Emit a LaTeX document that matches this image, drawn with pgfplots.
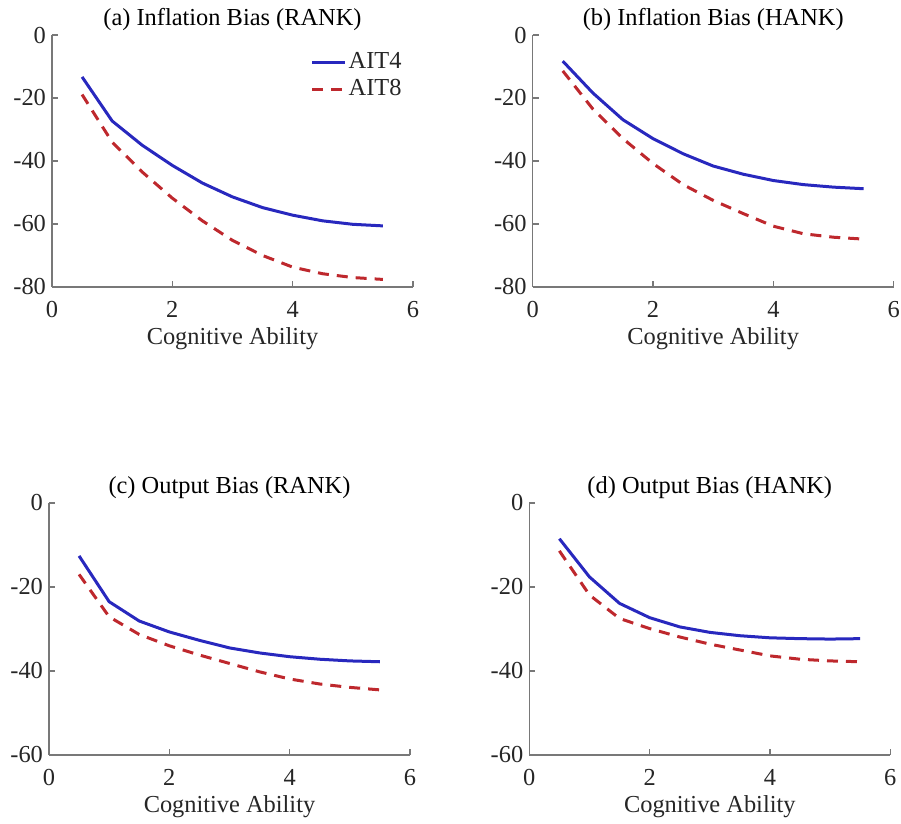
\documentclass[border=0pt]{standalone}
\usepackage{fontspec}
\setmainfont{Liberation Serif}
\usepackage{pgfplots}
\pgfplotsset{compat=1.18}
\definecolor{ait4}{RGB}{40,40,190}
\definecolor{ait8}{RGB}{190,40,45}
\definecolor{axgray}{RGB}{120,120,120}
\definecolor{txt}{RGB}{38,38,38}
\newcommand{\ff}{\fontsize{12.2}{14}\selectfont}
\pgfplotsset{
  every axis title shift=0pt,
  panel/.style={
    width=180.5pt, height=126pt, scale only axis,
    axis x line*=bottom, axis y line*=left,
    axis line style={axgray, line width=0.6pt},
    tick style={axgray, line width=0.6pt, major tick length=3pt},
    tick align=inside,
    xmin=0, xmax=6, xtick={0,2,4,6},
    /pgf/number format/assume math mode=true,
    ticklabel style={font=\ff, text=txt},
    xticklabel style={anchor=base, yshift=-15.5pt},
    yticklabel style={anchor=east, xshift=0.5pt},
    title style={font=\ff, text=black, at={(axis description cs:0.5,1)}, anchor=base, yshift=5pt},
    xlabel={Cognitive Ability},
    xlabel style={font=\ff, text=txt, at={(axis description cs:0.5,0)}, anchor=base, yshift=-29pt},
    clip=false,
  },
  s4/.style={ait4, line width=1.5pt},
  s8/.style={ait8, line width=1.5pt, dash pattern=on 5.5pt off 4pt},
}
\begin{document}
\begin{tikzpicture}
\useasboundingbox (0,0) rectangle (450.5pt,412pt);
% (a)
\begin{axis}[panel, at={(26pt,268.5pt)}, anchor=south west,
  ymin=-80, ymax=0, ytick={-80,-60,-40,-20,0},
  title={(a) Inflation Bias (RANK)},
  legend style={draw=none, fill=none, at={(0.975,0.94)}, anchor=north east,
    font=\ff, text=txt, row sep=2pt, inner sep=0pt,
    nodes={inner xsep=1pt, inner ysep=1pt}},
  legend image code/.code={\draw[#1] (0cm,0cm) -- (0.58cm,0cm);},
  legend cell align=left]
\addplot[s4] coordinates {(0.5,-13.3) (1,-27.3) (1.5,-35.0) (2,-41.4) (2.5,-47.0) (3,-51.4) (3.5,-54.8) (4,-57.2) (4.5,-59.0) (5,-60.1) (5.5,-60.6)};
\addlegendentry{AIT4}
\addplot[s8] coordinates {(0.5,-18.9) (1,-34.0) (1.5,-43.5) (2,-51.8) (2.5,-59.0) (3,-65.2) (3.5,-70.0) (4,-73.7) (4.5,-75.8) (5,-77.0) (5.5,-77.6)};
\addlegendentry{AIT8}
\end{axis}
% (b)
\begin{axis}[panel, at={(266.35pt,268.5pt)}, anchor=south west,
  ymin=-80, ymax=0, ytick={-80,-60,-40,-20,0},
  title={(b) Inflation Bias (HANK)}]
\addplot[s4] coordinates {(0.5,-8.3) (1,-18.4) (1.5,-26.9) (2,-32.9) (2.5,-37.7) (3,-41.6) (3.5,-44.2) (4,-46.2) (4.5,-47.5) (5,-48.3) (5.5,-48.8)};
\addplot[s8] coordinates {(0.5,-11.4) (1,-23.5) (1.5,-32.9) (2,-40.8) (2.5,-47.5) (3,-52.5) (3.5,-56.7) (4,-60.7) (4.5,-63.1) (5,-64.2) (5.5,-64.8)};
\end{axis}
% (c)
\begin{axis}[panel, at={(24.5pt,34.5pt)}, anchor=south west,
  ymin=-60, ymax=0, ytick={-60,-40,-20,0},
  title={(c) Output Bias (RANK)}]
\addplot[s4] coordinates {(0.5,-12.6) (1,-23.5) (1.5,-28.1) (2,-30.7) (2.5,-32.7) (3,-34.5) (3.5,-35.7) (4,-36.6) (4.5,-37.2) (5,-37.6) (5.5,-37.8)};
\addplot[s8] coordinates {(0.5,-17.0) (1,-27.1) (1.5,-31.3) (2,-34.0) (2.5,-36.2) (3,-38.2) (3.5,-40.2) (4,-41.9) (4.5,-43.1) (5,-43.9) (5.5,-44.5)};
\end{axis}
% (d)
\begin{axis}[panel, at={(264.65pt,34.5pt)}, anchor=south west,
  ymin=-60, ymax=0, ytick={-60,-40,-20,0},
  title={(d) Output Bias (HANK)}]
\addplot[s4] coordinates {(0.5,-8.5) (1,-17.6) (1.5,-23.9) (2,-27.3) (2.5,-29.5) (3,-30.8) (3.5,-31.6) (4,-32.1) (4.5,-32.3) (5,-32.4) (5.5,-32.3)};
\addplot[s8] coordinates {(0.5,-11.4) (1,-21.9) (1.5,-27.5) (2,-29.9) (2.5,-31.9) (3,-33.6) (3.5,-35.0) (4,-36.4) (4.5,-37.2) (5,-37.6) (5.5,-37.8)};
\end{axis}
\end{tikzpicture}
\end{document}
